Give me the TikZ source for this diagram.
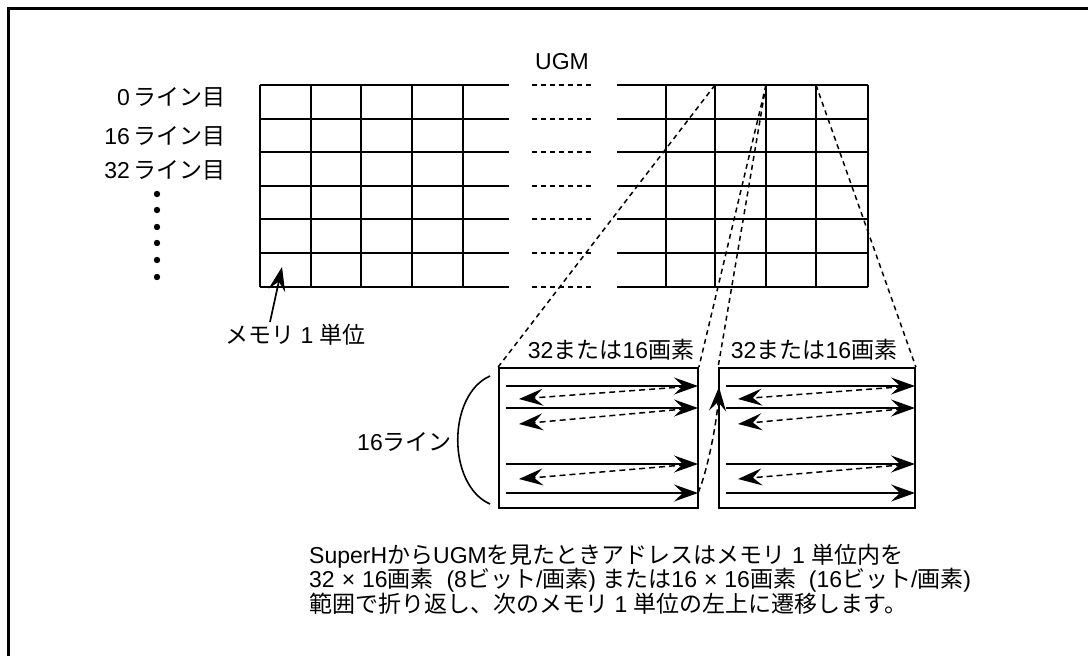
\documentclass[tikz,border=0pt]{standalone}
\usepackage{fontspec}
\setmainfont{Liberation Sans}
\newfontfamily\jp{Noto Sans CJK JP}
\newcommand\J[1]{{\jp #1}}
\newcommand\tms{\hspace{7pt}×\hspace{7pt}}
\usetikzlibrary{arrows.meta}
\begin{document}
\begin{tikzpicture}[x=1pt,y=-1pt,
  gridline/.style={line width=1.8pt},
  dline/.style={line width=1.5pt, dash pattern=on 5pt off 4pt},
  txt/.style={inner sep=0pt, font=\fontsize{23}{28}\selectfont},
  arr/.style={line width=1.7pt, -{Stealth[length=24pt,width=17pt,inset=9pt]}},
  darr/.style={line width=1.5pt, dash pattern=on 6pt off 4pt, -{Stealth[length=24pt,width=17pt,inset=9pt]}},
  boxn/.style={draw, line width=1.8pt, minimum height=140pt, inner sep=0pt}]
\useasboundingbox (0,0) rectangle (1088,656);
\draw[line width=3pt] (8,660) -- (8,8) -- (1092,8);
% grids
\foreach \y in {85,119,152,186,219,253,287} {
  \draw[gridline] (260,\y) -- (509,\y);
  \draw[dline] (532,\y) -- (593,\y);
  \draw[gridline] (617,\y) -- (868,\y);
}
\foreach \x in {260,311,361,412,463,666,715,766,816,868}
  \draw[gridline] (\x,85) -- (\x,287);
% dots
\foreach \y in {194,210,227,243,260,277} \fill (157,\y) circle (3.2);
% labels
\node[txt] (ugm) at (562,62) {UGM};
\node[txt, anchor=east] (l0) at (226,97) {0\,\J{ライン目}};
\node[txt, anchor=east] (l16) at (226,136) {16\,\J{ライン目}};
\node[txt, anchor=east] (l32) at (226,170) {32\,\J{ライン目}};
\node[txt, anchor=west] (mem) at (225,335) {\J{メモリ} 1 \J{単位}};
\coordinate (memtail) at (270,322);
\coordinate (memtip) at (282,267);
\draw[arr] (memtail) -- (memtip);
% boxes
\node[boxn, minimum width=199pt] (lb) at (598.5,438) {};
\node[boxn, minimum width=196pt] (rb) at (817,438) {};
\node[txt] (lbt) at (611,350) {32\J{または}16\J{画素}};
\node[txt] (rbt) at (814,350) {32\J{または}16\J{画素}};
% zoom lines
\coordinate (g1) at (715,85);
\coordinate (g2) at (766,85);
\coordinate (g3) at (816,85);
\draw[dline] (g1) -- (lb.north west);
\draw[dline] (g2) -- (lb.north east);
\draw[dline] (g2) -- (rb.north west);
\draw[dline] (g3) -- (rb.north east);
% scan arrows
\foreach \bx/\ex/\dx/\n in {506/698/519/L, 726/915/738/R} {
  \foreach \ya/\yb/\k in {386/399/1, 408/424/2, 464/479/3} {
    \coordinate (s\n\k a) at (\bx,\ya);
    \coordinate (s\n\k b) at (\ex,\ya);
    \coordinate (d\n\k a) at (\ex-3,\ya);
    \coordinate (d\n\k b) at (\dx,\yb);
    \draw[arr] (s\n\k a) -- (s\n\k b);
    \draw[darr] (d\n\k a) -- (d\n\k b);
  }
  \coordinate (s\n4a) at (\bx,493);
  \coordinate (s\n4b) at (\ex,493);
  \draw[arr] (s\n4a) -- (s\n4b);
}
\coordinate (c1) at (698,493);
\coordinate (c2) at (719,387);
\draw[darr] (c1) .. controls (708,470) and (717,420) .. (c2);
% bracket
\draw[line width=1.6pt] (490,376) .. controls (447,395) and (447,485) .. (490,504);
\node[txt, anchor=east] (l16b) at (452,442) {16\J{ライン}};
% bottom text
\node[txt, anchor=west] (t1) at (309,556) {SuperH\J{から}UGM\J{を見たときアドレスはメモリ} 1 \J{単位内を}};
\node[txt, anchor=west] (t2) at (309,580) {32\tms16\J{画素}\ \ (8\J{ビット}/\J{画素}) \J{または}16\tms16\J{画素}\ \ (16\J{ビット}/\J{画素})};
\node[txt, anchor=west] (t3) at (309,604) {\J{範囲で折り返し、次のメモリ} 1 \J{単位の左上に遷移します。}};
\end{tikzpicture}
\end{document}
